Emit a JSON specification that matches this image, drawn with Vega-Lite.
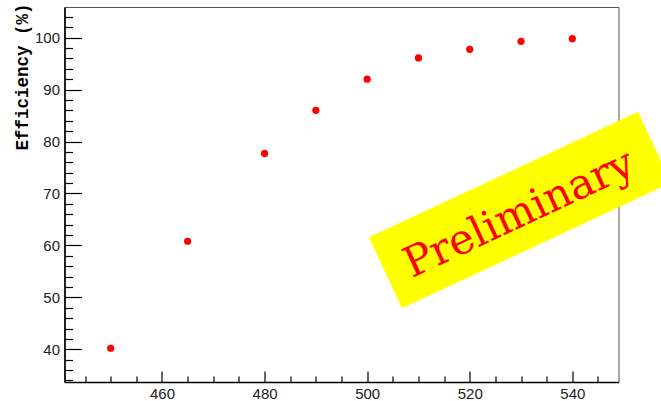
{
  "$schema": "https://vega.github.io/schema/vega-lite/v6.json",
  "width": 554,
  "height": 375,
  "autosize": "none",
  "padding": {"left": 64.5, "top": 7, "right": 42.5, "bottom": 19},
  "background": "white",
  "config": {
    "view": {"stroke": "#555555", "strokeWidth": 1},
    "axis": {
      "grid": false,
      "domainColor": "#000000",
      "domainWidth": 1.6,
      "tickColor": "#000000",
      "tickWidth": 1.2,
      "labelFont": "Liberation Sans",
      "labelFontSize": 15,
      "labelColor": "#222222",
      "labelOverlap": false
    }
  },
  "datasets": {
    "efficiency": [
      {"energy": 450, "eff": 40.2},
      {"energy": 465, "eff": 60.8},
      {"energy": 480, "eff": 77.7},
      {"energy": 490, "eff": 86.0},
      {"energy": 500, "eff": 92.0},
      {"energy": 510, "eff": 96.1},
      {"energy": 520, "eff": 97.75},
      {"energy": 530, "eff": 99.3},
      {"energy": 540, "eff": 99.8}
    ],
    "stamp": [
      {"boxEnergy": 529.8, "boxEff": 66.8, "textEnergy": 530.7, "textEff": 63.8, "label": "Preliminary"}
    ]
  },
  "resolve": {"axis": {"x": "independent", "y": "independent"}},
  "layer": [
    {
      "data": {"name": "efficiency"},
      "mark": {"type": "point", "filled": true, "size": 52, "color": "#ff0000", "opacity": 1},
      "encoding": {
        "x": {
          "field": "energy",
          "type": "quantitative",
          "scale": {"domain": [441, 549], "nice": false, "zero": false},
          "axis": {
            "orient": "bottom",
            "title": null,
            "values": [460, 480, 500, 520, 540],
            "tickSize": -11,
            "labelPadding": 15
          }
        },
        "y": {
          "field": "eff",
          "type": "quantitative",
          "scale": {"domain": [33.7, 105.9], "nice": false, "zero": false},
          "axis": {
            "orient": "left",
            "title": "Efficiency (%)",
            "titleFont": "Liberation Mono",
            "titleFontWeight": "bold",
            "titleFontSize": 17.5,
            "titleColor": "#000000",
            "titleAngle": -90,
            "titleAlign": "right",
            "titleBaseline": "alphabetic",
            "titleX": -37,
            "titleY": -4,
            "values": [40, 50, 60, 70, 80, 90, 100],
            "tickSize": -17,
            "labelPadding": 22
          }
        }
      }
    },
    {
      "data": {"name": "stamp"},
      "mark": {
        "type": "point",
        "shape": "M -1 -0.2636 L 1 -0.2636 L 1 0.2636 L -1 0.2636 Z",
        "size": 88209,
        "angle": -25,
        "filled": true,
        "color": "#ffff00",
        "opacity": 1,
        "strokeWidth": 0
      },
      "encoding": {
        "x": {
          "field": "boxEnergy",
          "type": "quantitative",
          "axis": {
            "orient": "bottom",
            "title": null,
            "domain": false,
            "labels": false,
            "values": [445, 450, 455, 465, 470, 475, 485, 490, 495, 505, 510, 515, 525, 530, 535, 545],
            "tickSize": -6
          }
        },
        "y": {
          "field": "boxEff",
          "type": "quantitative",
          "axis": {
            "orient": "left",
            "title": null,
            "domain": false,
            "labels": false,
            "values": [34, 36, 38, 42, 44, 46, 48, 52, 54, 56, 58, 62, 64, 66, 68, 72, 74, 76, 78, 82, 84, 86, 88, 92, 94, 96, 98, 102, 104],
            "tickSize": -8
          }
        }
      }
    },
    {
      "data": {"name": "stamp"},
      "mark": {
        "type": "text",
        "angle": -25,
        "font": "DejaVu Serif",
        "fontSize": 42,
        "color": "#ff0000",
        "align": "center",
        "baseline": "alphabetic"
      },
      "encoding": {
        "x": {"field": "textEnergy", "type": "quantitative", "axis": null},
        "y": {"field": "textEff", "type": "quantitative", "axis": null},
        "text": {"field": "label"}
      }
    }
  ]
}
